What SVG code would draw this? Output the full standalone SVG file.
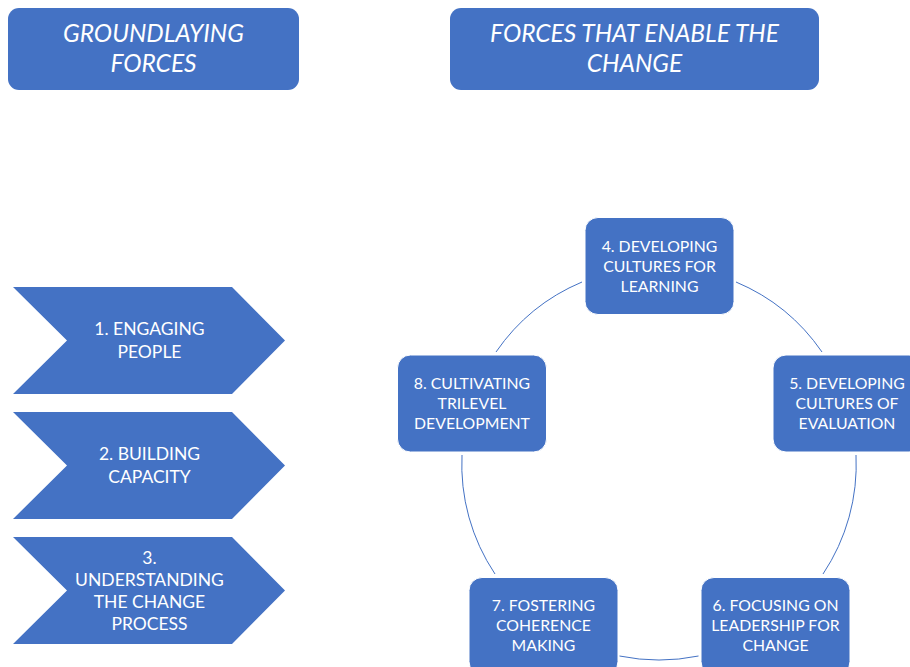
<svg xmlns="http://www.w3.org/2000/svg" width="910" height="667" viewBox="0 0 910 667">
<style>
.hdr{fill:#4472C4;}
.hdrt{fill:#fff;font-family:Lato,"Liberation Sans",sans-serif;font-style:italic;font-size:24.5px;text-anchor:middle;}
.chev{fill:#4472C4;}
.ct{fill:#fff;font-family:Lato,"Liberation Sans",sans-serif;font-size:17.5px;text-anchor:middle;}
.box{fill:#4472C4;stroke:#fff;stroke-width:1;}
.bt{fill:#fff;font-family:Lato,"Liberation Sans",sans-serif;font-size:15.8px;text-anchor:middle;}
.arc{fill:none;stroke:#4472C4;stroke-width:1;}
</style>
<rect width="910" height="667" fill="#fff"/>
<g id="connectors">
<path class="arc" d="M736,282 A197,197 0 0 1 822,352"/>
<path class="arc" d="M856,455 A197,197 0 0 1 823,574"/>
<path class="arc" d="M698.5,656 A197,197 0 0 1 619.5,656"/>
<path class="arc" d="M495,574 A197,197 0 0 1 462,455"/>
<path class="arc" d="M496,352 A197,197 0 0 1 582,282"/>
</g>
<g id="header1">
<rect class="hdr" x="8" y="8" width="291" height="82" rx="11"/>
<text class="hdrt" x="153.5" y="42">GROUNDLAYING</text>
<text class="hdrt" x="153.5" y="72">FORCES</text>
</g>
<g id="header2">
<rect class="hdr" x="450" y="8" width="369" height="82" rx="11"/>
<text class="hdrt" x="634.5" y="42">FORCES THAT ENABLE THE</text>
<text class="hdrt" x="634.5" y="72">CHANGE</text>
</g>
<g id="chevron1">
<polygon class="chev" points="13,287 232,287 285,340.5 232,394 13,394 67,340.5"/>
<text class="ct" x="149.5" y="335">1. ENGAGING</text>
<text class="ct" x="149.5" y="357.5">PEOPLE</text>
</g>
<g id="chevron2">
<polygon class="chev" points="13,412 232,412 285,465.5 232,519 13,519 67,465.5"/>
<text class="ct" x="149.5" y="460">2. BUILDING</text>
<text class="ct" x="149.5" y="482.5">CAPACITY</text>
</g>
<g id="chevron3">
<polygon class="chev" points="13,537 232,537 285,590.5 232,644 13,644 67,590.5"/>
<text class="ct" x="149.5" y="564">3.</text>
<text class="ct" x="149.5" y="586">UNDERSTANDING</text>
<text class="ct" x="149.5" y="608">THE CHANGE</text>
<text class="ct" x="149.5" y="630">PROCESS</text>
</g>
<g id="node4">
<rect class="box" x="585" y="217.5" width="149" height="97" rx="13"/>
<text class="bt" x="659.5" y="251.5">4. DEVELOPING</text>
<text class="bt" x="659.5" y="272">CULTURES FOR</text>
<text class="bt" x="659.5" y="292">LEARNING</text>
</g>
<g id="node5">
<rect class="box" x="773" y="355" width="149" height="97" rx="13"/>
<text class="bt" x="847" y="388.5">5. DEVELOPING</text>
<text class="bt" x="847" y="409">CULTURES OF</text>
<text class="bt" x="847" y="429">EVALUATION</text>
</g>
<g id="node6">
<rect class="box" x="701" y="577.5" width="149" height="97" rx="13"/>
<text class="bt" x="775.5" y="611">6. FOCUSING ON</text>
<text class="bt" x="775.5" y="631">LEADERSHIP FOR</text>
<text class="bt" x="775.5" y="651">CHANGE</text>
</g>
<g id="node7">
<rect class="box" x="469" y="577.5" width="149" height="97" rx="13"/>
<text class="bt" x="543.5" y="611">7. FOSTERING</text>
<text class="bt" x="543.5" y="631">COHERENCE</text>
<text class="bt" x="543.5" y="651">MAKING</text>
</g>
<g id="node8">
<rect class="box" x="397.5" y="355" width="149" height="97" rx="13"/>
<text class="bt" x="472" y="388.5">8. CULTIVATING</text>
<text class="bt" x="472" y="409">TRILEVEL</text>
<text class="bt" x="472" y="429">DEVELOPMENT</text>
</g>
</svg>
